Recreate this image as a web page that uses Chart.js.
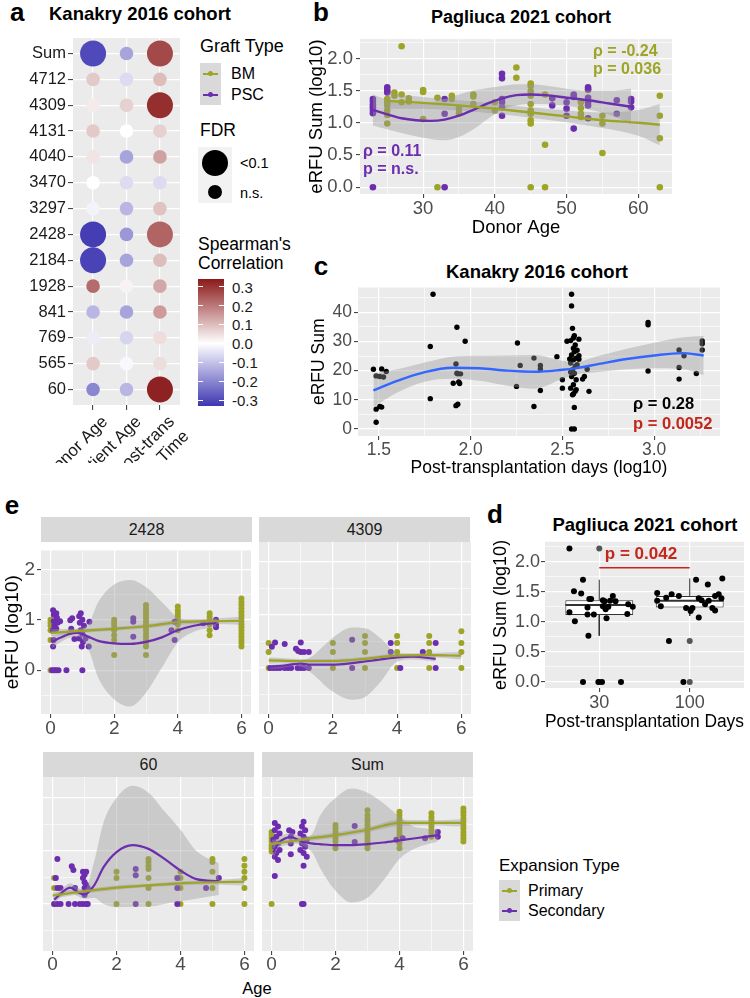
<!DOCTYPE html>
<html><head><meta charset="utf-8">
<script src="https://cdn.jsdelivr.net/npm/chart.js@4.4.1/dist/chart.umd.min.js"></script>
<style>
html,body{margin:0;padding:0;background:#fff;}
body{width:750px;height:998px;position:relative;overflow:hidden;font-family:"Liberation Sans",Arial,sans-serif;color:#000;}
canvas{position:absolute;}
.t{position:absolute;white-space:nowrap;line-height:1;}
.strip{position:absolute;background:#D9D9D9;color:#1A1A1A;font-size:16px;display:flex;align-items:center;justify-content:center;}
.box{position:absolute;}
</style></head><body>
<script>
// ── panel a: Spearman dot plot ──
const aRows = ['Sum','4712','4309','4131','4040','3470','3297','2428','2184','1928','841','769','565','60'];
const aCols = ['Donor Age', 'Patient Age', ['Post-trans', 'Time']];
const rhoDonor   = [-0.30, 0.08, 0.03, 0.08, 0.04, 0.00, -0.02, -0.32, -0.31, 0.22, -0.12, -0.03, 0.08, -0.20];
const rhoPatient = [-0.15, -0.06, 0.07, 0.00, -0.15, -0.06, -0.12, -0.17, -0.15, 0.02, -0.15, -0.07, -0.01, -0.12];
const rhoPost    = [0.27, 0.10, 0.31, 0.07, 0.14, -0.06, 0.09, 0.23, 0.10, 0.13, 0.15, 0.05, 0.05, 0.33];
const sigDonor   = [1,0,0,0,0,0,0,1,1,0,0,0,0,0];
const sigPatient = [0,0,0,0,0,0,0,0,0,0,0,0,0,0];
const sigPost    = [1,0,1,0,0,0,0,1,0,0,0,0,0,1];
const cbarTicks  = [0.3, 0.2, 0.1, 0.0, -0.1, -0.2, -0.3];

// ── panel b: Pagliuca, donor age ──
const bBM = [[25,1.37],[25,1.32],[25,1.27],[25,1.19],[25,1.12],[25,0.99],[26,1.47],[26,1.42],[27,2.19],[27,1.44],[27,1.32],[28,1.38],[28,1.33],[30,1.51],[30,1.48],[30,1.06],[32,1.39],[32,0],[34,1.42],[34,1.37],[35,1.22],[35,1.15],[37,1.44],[37,1.41],[37,1.29],[40,1.32],[40,1.19],[43,1.86],[43,1.70],[45,1.61],[45,1.57],[45,1.49],[45,1.42],[45,1.29],[45,1.19],[45,1.14],[45,1.04],[45,0.99],[45,0],[47,1.44],[47,0.66],[47,0],[52,1.32],[52,1.23],[52,1.14],[52,1.09],[53,1.51],[55,1.11],[55,0.99],[55,0.53],[63,1.42],[63,1.11],[63,0.76],[63,0]];
const bPSC = [[23,1.37],[23,1.33],[23,1.28],[23,1.24],[23,1.20],[23,1.15],[23,0],[25,1.55],[25,1.50],[25,1.47],[33,1.37],[33,1.14],[33,0],[41,1.76],[41,1.69],[41,1.37],[41,1.32],[41,1.24],[41,1.11],[48,1.38],[48,1.27],[50,1.32],[50,1.22],[50,1.11],[51,1.44],[51,1.40],[51,0.91],[53,1.55],[53,1.52],[53,1.39],[53,1.32],[53,1.27],[53,1.07],[57,1.35],[57,1.14],[59,1.37],[59,1.33],[59,1.24]];
// [x, fit, lower, upper]
const bBMFit = [[25,1.34,1.22,1.46],[30,1.31,1.22,1.40],[35,1.27,1.19,1.35],[40,1.22,1.14,1.30],[45,1.16,1.08,1.24],[50,1.10,1.01,1.19],[55,1.04,0.92,1.16],[60,1.00,0.80,1.20],[63,0.97,0.65,1.29]];
const bPSCFit = [[23,1.20,0.96,1.44],[25,1.13,0.90,1.36],[27,1.07,0.84,1.30],[29,1.04,0.79,1.29],[31,1.03,0.75,1.31],[33,1.05,0.73,1.37],[35,1.11,0.78,1.44],[37,1.20,0.90,1.50],[39,1.30,1.06,1.54],[41,1.38,1.20,1.57],[43,1.43,1.27,1.60],[45,1.44,1.29,1.60],[47,1.43,1.29,1.58],[50,1.39,1.26,1.53],[53,1.35,1.21,1.50],[56,1.30,1.12,1.50],[59,1.25,0.98,1.53]];

// ── panel c: Kanakry, post-transplant days ──
const cPts = [[1.47,20.5],[1.485,18.2],[1.485,6.8],[1.485,2.3],[1.505,7.7],[1.505,18.0],[1.515,20.6],[1.515,7.5],[1.525,17.8],[1.54,19.7],
  [1.78,28.3],[1.78,10.4],[1.795,46.2],[1.905,15.7],[1.92,22.3],[1.92,8.0],[1.925,34.9],[1.925,19.1],[1.93,8.5],[1.93,18.9],[1.935,16.1],[1.94,15.6],[1.945,18.9],[1.97,30.1],
  [2.25,14.6],[2.255,29.5],[2.27,21.8],[2.345,24.3],[2.345,7.7],[2.38,21.8],[2.38,20.6],[2.38,13.2],[2.47,24.8],[2.5,16.9],[2.5,14.0],[2.525,30.1],
  [2.55,46.2],[2.55,42.2],[2.555,34.5],[2.565,32.0],[2.56,31.2],[2.545,30.3],[2.57,28.8],[2.56,27.7],[2.565,26.5],[2.55,25.4],[2.575,24.3],[2.56,23.7],[2.545,22.6],[2.57,21.4],[2.555,20.3],[2.565,19.1],[2.55,18.0],[2.575,16.9],[2.56,15.2],[2.545,14.0],[2.57,12.9],[2.555,11.7],[2.565,7.4],[2.55,0],[2.565,0],[2.56,12.0],[2.575,13.5],[2.545,19.5],[2.58,22.0],[2.54,24.0],[2.58,27.0],
  [2.59,30.8],[2.59,25.1],[2.59,23.9],[2.61,17.1],[2.62,18.0],[2.635,20.5],[2.645,12.9],
  [2.967,36.5],[2.967,35.7],[2.967,19.9],[3.136,27.1],[3.136,21.1],[3.136,17.1],[3.163,25.1],[3.23,19.0],[3.262,30.2],[3.262,29.2],[3.262,27.1]];
const cFit = [[1.47,13.2,7.5,19.0],[1.6,16.5,12.5,20.5],[1.75,19.5,16.2,22.8],[1.9,21.0,17.2,24.8],[2.05,20.8,16.5,25.1],[2.2,20.0,14.8,25.2],[2.35,19.6,13.8,25.4],[2.5,20.3,17.2,23.4],[2.57,20.8,18.6,23.0],[2.7,22.3,19.5,25.1],[2.85,24.0,20.5,27.5],[3.0,25.2,20.8,29.6],[3.15,26.0,20.6,31.4],[3.27,25.2,18.5,31.9]];

// ── panel d: Pagliuca, day 30 vs 100 ──
const dCats = ['30', '100'];
const dQ1 = [1.115, 1.24], dMed = [1.28, 1.35], dQ3 = [1.357, 1.43], dWhiskLo = [0.77, 1.10], dWhiskHi = [1.70, 1.72];
const dPts30 = [[0.67,2.22],[0.82,1.70],[0.72,1.51],[0.80,1.47],[0.89,1.38],[0.91,1.38],[1.04,1.36],[1.06,1.34],[1.15,1.43],[1.12,1.35],[1.18,1.34],[0.67,1.16],[0.87,1.24],[1.10,1.25],[1.07,1.21],[1.32,1.29],[1.37,1.25],[1.31,1.13],[0.87,1.12],[0.94,1.12],[0.73,1.01],[1.08,1.06],[0.88,0.77],[0.82,0],[0.99,0],[1.03,0],[1.24,0],[1.04,1.26]];
const dPts100 = [[2.07,1.70],[2.36,1.72],[2.20,1.62],[1.64,1.48],[1.74,1.40],[1.80,1.46],[1.88,1.43],[2.10,1.39],[2.13,1.36],[2.32,1.46],[2.35,1.39],[2.28,1.43],[1.64,1.35],[1.68,1.26],[1.96,1.23],[2.03,1.23],[2.17,1.29],[2.21,1.35],[2.25,1.23],[2.28,1.19],[2.01,1.18],[2.10,1.07],[1.77,0.68],[1.93,0]];
const dOutliers = [[1,2.22],[1,0],[2,0.68],[2,0]];
const dBracketY = 1.9;

// ── panel e: facets by age ──
const e2428P = [[0,1.0],[0,0.94],[0,0.88],[0,0.79],[0,0.6],[0,0],[2,1.0],[2,0.94],[2,0.88],[2,0.79],[2,0.69],[2,0.6],[2,0.3],
  [3,1.29],[3,1.23],[3,1.16],[3,1.10],[3,1.04],[3,0.97],[3,0.91],[3,0.85],[3,0.79],[3,0.72],[3,0.66],[3,0.6],[3,0.54],[3,0.47],[3,0.3],
  [4,1.26],[4,1.19],[4,1.13],[4,1.07],[4,1.0],[4,0.91],[4,0.79],[5,1.13],[5,1.07],[5,1.0],[5,0.91],[5,0.79],[5,0.69],
  [6,1.42],[6,1.35],[6,1.29],[6,1.23],[6,1.16],[6,1.10],[6,1.04],[6,0.97],[6,0.91],[6,0.85],[6,0.79],[6,0.72],[6,0.66],[6,0.6],[6,0.54],[6,0.47]];
const e2428S = [[0.08,1.19],[0.1,1.1],[0.1,0.97],[0.12,0.88],[0.08,0.79],[0.1,0.6],[0.08,0.47],[0.18,1.13],[0.2,1.04],[0.22,0.94],[0.3,0.97],[0.18,0.82],[0.05,0],[0.12,0],[0.18,0],[0.25,0],[0.5,0],[0.62,0.99],[0.68,1.03],[0.65,0.82],[0.75,0.62],[0.9,1.07],[0.95,1.13],[1.0,1.0],[0.92,0.94],[1.05,0.88],[0.95,0.79],[1.0,0.72],[0.9,0.63],[1.02,0.56],[0.98,0.47],[1.0,0],[1.22,0.96],[1.2,0.47],[1.1,0.63],[2.6,1.03],[2.6,0.96],[2.6,0.66],[3.9,0.96],[3.9,0.6],[3.8,0.79],[4.8,0.93],[5.2,1.0],[5.2,0.91],[5.2,0.85]];
const e2428PFit = [[0,0.74,0.67,0.81],[1,0.78,0.74,0.82],[2,0.82,0.78,0.86],[3,0.87,0.83,0.91],[4,0.95,0.90,1.0],[5,0.97,0.92,1.02],[6,0.98,0.90,1.06]];
const e2428SFit = [[0.05,0.56,0.44,0.68],[0.3,0.64,0.55,0.73],[0.6,0.72,0.64,0.80],[0.85,0.74,0.66,0.82],[1.2,0.66,0.40,0.92],[1.5,0.58,-0.15,1.35],[2.0,0.53,-0.58,1.70],[2.5,0.52,-0.72,1.79],[3.0,0.56,-0.45,1.65],[3.5,0.65,0.05,1.35],[4.0,0.79,0.55,1.05],[4.5,0.88,0.76,1.0],[5.2,0.94,0.86,1.02]];

const e4309P = [[0,0.47],[0,0.3],[0,0],[2,0.47],[2,0.3],[2,0],[3,0.6],[3,0.47],[3,0.3],[3,0],[4,0.6],[4,0.47],[4,0.3],[4,0],[5,0.6],[5,0.47],[5,0.3],[5,0],[6,0.69],[6,0.47],[6,0.3],[6,0]];
const e4309S = [[0.05,0],[0.1,0.40],[0.15,0],[0.2,0.48],[0.25,0],[0.35,0],[0.5,0.45],[0.5,0],[0.6,0],[0.7,0],[0.85,0.36],[0.9,0],[0.92,0.32],[1.0,0.48],[1.0,0.30],[1.0,0],[1.1,0.30],[1.1,0],[1.25,0.30],[1.25,0],[2.6,0.53],[2.6,0],[3.8,0.47],[3.8,0.30],[4.1,0],[4.8,0.30],[5.2,0.47],[5.2,0]];
const e4309PFit = [[0,0.14,0.08,0.20],[1,0.13,0.09,0.17],[2,0.13,0.09,0.17],[3,0.17,0.13,0.21],[4,0.23,0.19,0.27],[5,0.24,0.20,0.28],[6,0.23,0.16,0.30]];
const e4309SFit = [[0.05,0.02,-0.02,0.06],[0.4,0.04,0.0,0.08],[0.8,0.07,0.03,0.11],[1.0,0.08,0.02,0.14],[1.3,0.06,-0.08,0.20],[2.0,0.06,-0.45,0.57],[2.6,0.09,-0.60,0.76],[3.0,0.12,-0.55,0.75],[3.5,0.16,-0.25,0.55],[4.0,0.20,0.12,0.28],[4.5,0.21,0.16,0.26],[5.2,0.17,0.12,0.22]];

const e60P = [[0.05,0.49],[0.05,0.3],[0.05,0],[2,0.61],[2,0.49],[2,0],[3,0.85],[3,0.79],[3,0.72],[3,0.66],[3,0.49],[3,0.3],[3,0],[4,0.61],[4,0.49],[4,0.3],[4,0],[5,0.85],[5,0.79],[5,0.61],[5,0.3],[5,0],[6,0.85],[6,0.72],[6,0.61],[6,0.49],[6,0.3],[6,0]];
const e60S = [[0.15,0.85],[0.1,0.49],[0.15,0.30],[0.25,0.30],[0.05,0],[0.15,0],[0.25,0],[0.5,0],[0.6,0.71],[0.65,0.64],[0.7,0.30],[0.7,0],[0.85,0],[0.95,0.61],[1.05,0.61],[1.0,0.55],[0.95,0.49],[1.0,0.41],[1.05,0.36],[1.0,0.30],[1.1,0.30],[1.0,0.17],[0.95,0],[1.05,0],[1.1,0],[2.6,0.66],[2.6,0.54],[2.6,0],[3.9,0.49],[3.9,0.30],[3.9,0],[4.8,0.30],[5.2,0.49]];
const e60PFit = [[0,0.16,0.10,0.22],[1,0.24,0.20,0.28],[2,0.31,0.27,0.35],[3,0.35,0.32,0.38],[4,0.39,0.35,0.43],[5,0.41,0.37,0.45],[6,0.42,0.35,0.49]];
const e60SFit = [[0.05,0.08,0.0,0.16],[0.3,0.22,0.15,0.29],[0.55,0.31,0.23,0.39],[0.8,0.22,0.14,0.30],[1.0,0.18,0.10,0.26],[1.3,0.35,0.12,0.8],[1.6,0.70,0.0,1.55],[2.0,0.98,-0.06,2.0],[2.5,1.11,-0.05,2.23],[3.0,1.04,-0.05,2.1],[3.5,0.85,0.0,1.75],[4.0,0.63,0.05,1.4],[4.5,0.47,0.1,1.0],[5.2,0.43,0.17,0.77]];

const eSumP = [[0,1.36],[0,1.30],[0,1.24],[0,1.18],[0,1.11],[0,1.05],[0,0.99],[0,0],
  [2,1.49],[2,1.43],[2,1.36],[2,1.30],[2,1.24],[2,1.18],[2,1.11],[2,1.05],
  [3,1.77],[3,1.68],[3,1.61],[3,1.55],[3,1.49],[3,1.43],[3,1.36],[3,1.30],[3,1.24],[3,1.18],[3,1.11],[3,1.05],
  [4,1.74],[4,1.68],[4,1.61],[4,1.55],[4,1.49],[4,1.43],[4,1.36],[4,1.30],[4,1.14],[4,1.05],
  [5,1.71],[5,1.64],[5,1.58],[5,1.52],[5,1.46],[5,1.39],[5,1.33],[5,1.27],
  [6,1.80],[6,1.74],[6,1.68],[6,1.61],[6,1.55],[6,1.49],[6,1.43],[6,1.36],[6,1.30],[6,1.24],[6,1.18]];
const eSumS = [[0.1,1.53],[0.2,1.46],[0.1,1.39],[0.25,1.33],[0.15,1.27],[0.05,1.21],[0.2,1.14],[0.1,1.08],[0.25,1.02],[0.15,0.96],[0.1,0.89],[0.2,0.83],[0.1,0.53],
  [0.55,1.39],[0.65,1.36],[0.6,1.27],[0.6,1.14],[0.6,0.94],
  [1.0,1.55],[0.95,1.46],[1.05,1.39],[0.9,1.33],[1.0,1.27],[1.1,1.21],[0.95,1.14],[1.05,1.08],[0.9,1.02],[1.0,0.96],[1.1,0.89],[1.0,0.72],[1.0,0],[0.95,0],
  [2.6,1.47],[2.6,1.17],[3.9,1.21],[4.1,1.24],[4.8,1.24],[5.2,1.36],[5.2,1.27]];
const eSumPFit = [[0,1.13,1.05,1.21],[1,1.22,1.17,1.27],[2,1.30,1.25,1.35],[3,1.40,1.35,1.45],[4,1.53,1.47,1.59],[5,1.53,1.48,1.58],[6,1.53,1.46,1.60]];
const eSumSFit = [[0.05,0.97,0.85,1.09],[0.2,1.14,1.05,1.23],[0.4,1.23,1.15,1.31],[0.6,1.26,1.18,1.34],[0.8,1.22,1.14,1.30],[1.0,1.17,1.09,1.25],[1.3,1.14,0.95,1.35],[1.5,1.13,0.7,1.65],[2.0,1.11,0.25,2.0],[2.5,1.11,0.03,2.18],[3.0,1.13,0.12,2.1],[3.5,1.16,0.45,1.9],[4.0,1.20,0.85,1.65],[4.5,1.24,1.05,1.45],[5.2,1.30,1.18,1.42]];

// ══════════════════════════════════════════
const OLIVE = '#9DA426', PURPLE = '#6C2DAF', RED = '#C3261B', BLUE = '#3366FF';
const RIBBON = 'rgba(153,153,153,0.4)';
const LOW = [62, 55, 178], HIGH = [139, 26, 26], C_MIN = -0.33, C_MAX = 0.34;
Chart.defaults.font.family = '"Liberation Sans", Arial, sans-serif';

function colorFor(v) {
  const t = v < 0 ? Math.min(1, v / C_MIN) : Math.min(1, v / C_MAX);
  const end = v < 0 ? LOW : HIGH;
  const c = end.map(e => Math.round(255 + (e - 255) * t));
  return `rgb(${c[0]},${c[1]},${c[2]})`;
}

const panelBg = {
  id: 'panelBg',
  beforeDraw(chart) {
    const {ctx, chartArea: a} = chart;
    ctx.save(); ctx.fillStyle = '#EBEBEB';
    ctx.fillRect(a.left, a.top, a.width, a.height);
    ctx.restore();
  }
};

function txt(s, x, y, o = {}) {
  const d = document.createElement('div');
  d.className = 't'; d.textContent = s;
  d.style.left = x + 'px'; d.style.top = y + 'px';
  d.style.fontSize = (o.size || 16) + 'px';
  if (o.bold) d.style.fontWeight = 'bold';
  if (o.color) d.style.color = o.color;
  d.style.transform = o.center ? 'translate(-50%,-50%)' : 'translateY(-50%)';
  document.body.appendChild(d);
  return d;
}
function box(x, y, w, h, css) {
  const d = document.createElement('div');
  d.className = 'box';
  Object.assign(d.style, {left: x + 'px', top: y + 'px', width: w + 'px', height: h + 'px'}, css);
  document.body.appendChild(d);
  return d;
}
function mkCanvas(x, y, w, h) {
  const c = document.createElement('canvas');
  c.width = w; c.height = h;
  Object.assign(c.style, {left: x + 'px', top: y + 'px', width: w + 'px', height: h + 'px'});
  document.body.appendChild(c);
  return c;
}

// ggplot-like axis: explicit major/minor ticks, fixed box size
function axis(o) {
  const minors = o.minor || [];
  const all = o.major.concat(minors).sort((a, b) => a - b);
  const isMaj = v => o.major.some(m => Math.abs(m - v) < 1e-9);
  return {
    type: 'linear', min: o.min, max: o.max, offset: false,
    afterBuildTicks: s => { s.ticks = all.map(v => ({value: v})); },
    afterFit: s => { if (o.horiz) s.height = o.box; else s.width = o.box; },
    ticks: {
      display: o.labels !== false, autoSkip: false,
      minRotation: o.rot || 0, maxRotation: o.rot || 0,
      padding: o.pad || 0, labelOffset: o.labelOffset || 0,
      font: {size: o.size}, color: o.color || '#4D4D4D',
      callback: v => isMaj(v) ? o.fmt(v) : ''
    },
    grid: {
      color: '#FFFFFF', offset: false,
      lineWidth: c => (c.tick && isMaj(c.tick.value)) ? 1.2 : 0.6,
      drawTicks: (o.tickLen || 0) > 0, tickLength: o.tickLen || 0, tickWidth: 1,
      tickColor: c => (c.tick && isMaj(c.tick.value)) ? '#333333' : 'rgba(0,0,0,0)'
    },
    border: {display: false},
    title: o.title ? {display: true, text: o.title, color: '#000', font: {size: o.titleSize}, padding: o.titlePad} : {display: false}
  };
}

function mkChart(canvas, type, datasets, scales, pad) {
  return new Chart(canvas, {
    type, data: {datasets}, plugins: [panelBg],
    options: {
      responsive: false, animation: false, devicePixelRatio: 1, events: [],
      layout: {padding: pad},
      plugins: {legend: {display: false}, tooltip: {enabled: false}, title: {display: false}},
      scales
    }
  });
}

const pts = (pairs, color, r, order = 3) => ({type: 'line', data: pairs.map(p => ({x: p[0], y: p[1]})), showLine: false,
  pointRadius: r, pointBackgroundColor: color, pointBorderWidth: 0, order});
const ribbon = rows => [
  {type: 'line', data: rows.map(r => ({x: r[0], y: r[3]})), borderWidth: 0, pointRadius: 0, fill: '+1',
   backgroundColor: RIBBON, cubicInterpolationMode: 'monotone', order: 2},
  {type: 'line', data: rows.map(r => ({x: r[0], y: r[2]})), borderWidth: 0, pointRadius: 0, fill: false,
   cubicInterpolationMode: 'monotone', order: 2}
];
const fitLine = (rows, color, w) => ({type: 'line', data: rows.map(r => ({x: r[0], y: r[1]})), borderColor: color,
  borderWidth: w, pointRadius: 0, fill: false, cubicInterpolationMode: 'monotone', order: 1});

// ── a ──
txt('a', 10, 12, {size: 26, bold: true});
txt('Kanakry 2016 cohort', 140, 14, {size: 18.5, bold: true, center: true});
const aData = [];
[[rhoDonor, sigDonor], [rhoPatient, sigPatient], [rhoPost, sigPost]].forEach(([rho, sig], c) => {
  aRows.forEach((r, i) => aData.push({x: c + 1, y: aRows.length - i, r: sig[i] ? 13 : 6.8, v: rho[i]}));
});
mkChart(mkCanvas(0, 25, 195, 438), 'bubble',
  [{data: aData, backgroundColor: c => colorFor(c.raw.v), borderWidth: 0}],
  {
    x: axis({min: 0.4, max: 3.6, major: [1, 2, 3], fmt: v => aCols[v - 1], horiz: true, box: 58, tickLen: 5, pad: 2,
             rot: 45, size: 17, color: '#1A1A1A', labelOffset: 12}),
    y: axis({min: 0.4, max: 14.6, major: aRows.map((r, i) => i + 1), fmt: v => aRows[aRows.length - v], box: 73,
             tickLen: 5, pad: 2, size: 16.5, color: '#1A1A1A'})
  },
  {top: 4, right: 15, left: 0, bottom: 0});

// legends for a / b
txt('Graft Type', 200, 46, {size: 18});
[[OLIVE, 'BM', 63], [PURPLE, 'PSC', 84]].forEach(([col, lab, y]) => {
  box(200, y, 21, 21, {background: '#D9D9D9'});
  box(203, y + 9.5, 15, 2, {background: col});
  box(208, y + 8, 5, 5, {background: col, borderRadius: '50%'});
  txt(lab, 231, y + 11, {size: 16});
});
txt('FDR', 200, 131, {size: 17.5});
box(198, 147, 34, 56, {background: '#F2F2F2'});
box(202, 150, 26, 26, {background: '#000', borderRadius: '50%'});
box(208, 185, 14, 14, {background: '#000', borderRadius: '50%'});
txt('<0.1', 240, 163, {size: 14.5});
txt('n.s.', 240, 193, {size: 14.5});
txt("Spearman's", 198, 245, {size: 17.5});
txt('Correlation', 198, 264, {size: 17.5});
{
  const top = 279, bot = 406, pxPer = (bot - top) / (C_MAX - C_MIN);
  const stops = [C_MAX, 0.2, 0.1, 0, -0.1, -0.2, C_MIN].map(v => `${colorFor(v)} ${((C_MAX - v) * pxPer).toFixed(1)}px`);
  box(198, top, 26, bot - top, {background: `linear-gradient(to bottom, ${stops.join(',')})`});
  cbarTicks.forEach(v => {
    const y = top + (C_MAX - v) * pxPer;
    box(198, y - 0.5, 5, 1, {background: '#fff'});
    box(219, y - 0.5, 5, 1, {background: '#fff'});
    txt(v.toFixed(1), 232, y, {size: 15, color: '#1A1A1A'});
  });
}

// ── b ──
txt('b', 321, 12, {size: 26, bold: true, center: true});
txt('Pagliuca 2021 cohort', 521, 17, {size: 18, bold: true, center: true});
mkChart(mkCanvas(300, 25, 380, 215), 'line',
  [].concat(ribbon(bBMFit), ribbon(bPSCFit), [fitLine(bBMFit, OLIVE, 2.4), fitLine(bPSCFit, PURPLE, 2.4)],
            [pts(bBM, OLIVE, 3.3, 4), pts(bPSC, PURPLE, 3.3, 3)]),
  {
    x: axis({min: 21.2, max: 64.7, major: [30, 40, 50, 60], minor: [25, 35, 45, 55], fmt: v => String(v), horiz: true,
             box: 46, tickLen: 4, pad: 0, size: 18.5, title: 'Donor Age', titleSize: 18.5, titlePad: {top: 0, bottom: 1}}),
    y: axis({min: -0.106, max: 2.3, major: [0, 0.5, 1, 1.5, 2], minor: [0.25, 0.75, 1.25, 1.75, 2.25], fmt: v => v.toFixed(1),
             box: 60, tickLen: 4, pad: 3, size: 18.5, title: 'eRFU Sum (log10)', titleSize: 18.5, titlePad: {top: 6, bottom: 0}})
  },
  {top: 10, right: 8, left: 0, bottom: 0});
txt('ρ = -0.24', 593, 51, {size: 16, bold: true, color: OLIVE});
txt('p = 0.036', 593, 69, {size: 16, bold: true, color: OLIVE});
txt('ρ = 0.11', 363, 151, {size: 16, bold: true, color: PURPLE});
txt('p = n.s.', 363, 169, {size: 16, bold: true, color: PURPLE});

// ── c ──
txt('c', 321, 266, {size: 26, bold: true, center: true});
txt('Kanakry 2016 cohort', 537, 272, {size: 18.5, bold: true, center: true});
mkChart(mkCanvas(300, 275, 430, 210), 'line',
  [].concat(ribbon(cFit), [fitLine(cFit, BLUE, 2.4)], [pts(cPts, '#000', 2.7)]),
  {
    x: axis({min: 1.386, max: 3.359, major: [1.5, 2, 2.5, 3], minor: [1.75, 2.25, 2.75, 3.25], fmt: v => v.toFixed(1), horiz: true,
             box: 49, tickLen: 4, pad: 0, size: 17.5, title: 'Post-transplantation days (log10)', titleSize: 17.5, titlePad: {top: 0, bottom: 6}}),
    y: axis({min: -2.4, max: 48.5, major: [0, 10, 20, 30, 40], minor: [5, 15, 25, 35, 45], fmt: v => String(v),
             box: 58, tickLen: 4, pad: 2, size: 17.5, title: 'eRFU Sum', titleSize: 17.5, titlePad: {top: 8.5, bottom: 0}})
  },
  {top: 12, right: 10, left: 0, bottom: 0});
txt('ρ = 0.28', 633, 403, {size: 16.5, bold: true});
txt('p = 0.0052', 633, 423, {size: 16.5, bold: true, color: RED});

// ── d ──
txt('d', 495, 514, {size: 26, bold: true, center: true});
txt('Pagliuca 2021 cohort', 645, 525, {size: 18.5, bold: true, center: true});
{
  const cats = dCats.map((c, i) => i + 1);
  const hw = 0.375;
  const ds = [
    {type: 'bar', data: cats.map((c, i) => ({x: c, y: [dQ1[i], dQ3[i]]})), backgroundColor: '#FFFFFF', borderColor: '#333333',
     borderWidth: 1, borderSkipped: false, categoryPercentage: 1, barPercentage: 0.75, order: 4}
  ];
  cats.forEach((c, i) => {
    ds.push({type: 'line', data: [{x: c, y: dQ3[i]}, {x: c, y: dWhiskHi[i]}], borderColor: '#333333', borderWidth: 1, pointRadius: 0, order: 5});
    ds.push({type: 'line', data: [{x: c, y: dQ1[i]}, {x: c, y: dWhiskLo[i]}], borderColor: '#333333', borderWidth: 1, pointRadius: 0, order: 5});
    ds.push({type: 'line', data: [{x: c - hw, y: dMed[i]}, {x: c + hw, y: dMed[i]}], borderColor: '#333333', borderWidth: 2, pointRadius: 0, order: 3});
  });
  ds.push(pts(dOutliers, '#555555', 3, 2));
  ds.push(pts(dPts30, '#000', 3, 1));
  ds.push(pts(dPts100, '#000', 3, 1));
  ds.push({type: 'line', data: [{x: 1, y: dBracketY}, {x: 2, y: dBracketY}], borderColor: RED, borderWidth: 1.5, pointRadius: 0, order: 0});
  mkChart(mkCanvas(480, 530, 270, 205), 'line', ds, {
    x: axis({min: 0.4, max: 2.6, major: cats, fmt: v => dCats[v - 1], horiz: true, box: 47, tickLen: 4, pad: 0, size: 18,
             title: 'Post-transplantation Days', titleSize: 18, titlePad: {top: 0, bottom: 2}}),
    y: axis({min: -0.1, max: 2.33, major: [0, 0.5, 1, 1.5, 2], minor: [0.25, 0.75, 1.25, 1.75, 2.25], fmt: v => v.toFixed(1),
             box: 65, tickLen: 4, pad: 1, size: 18, title: 'eRFU Sum (log10)', titleSize: 18, titlePad: {top: 10, bottom: 0}})
  }, {top: 10, right: 6, left: 0, bottom: 0});
}
txt('p = 0.042', 641, 553, {size: 17, bold: true, color: RED, center: true});

// ── e ──
txt('e', 12, 505, {size: 26, bold: true, center: true});
function facet(x, y, w, h, o) {
  const ds = [].concat(ribbon(o.pFit), ribbon(o.sFit),
    [fitLine(o.pFit, OLIVE, 2.2), fitLine(o.sFit, PURPLE, 2.2)],
    [pts(o.p, OLIVE, 3, 4), pts(o.s, PURPLE, 3, 3)]);
  mkChart(mkCanvas(x, y, w, h), 'line', ds, {
    x: axis({min: -0.3, max: 6.3, major: [0, 2, 4, 6], minor: [1, 3, 5], fmt: v => String(v), horiz: true,
             box: o.xBox, tickLen: 4, pad: o.xPad, size: 19}),
    y: axis(Object.assign({min: o.yMin, max: o.yMax, major: [0, 1, 2], minor: [-0.5, 0.5, 1.5], fmt: v => String(v)}, o.y))
  }, o.pad);
}
facet(0, 537, 255, 205, {p: e2428P, s: e2428S, pFit: e2428PFit, sFit: e2428SFit, yMin: -0.87, yMax: 2.375, xBox: 28, xPad: -1,
  y: {box: 41, tickLen: 4, pad: 2, size: 19, title: 'eRFU (log10)', titleSize: 19, titlePad: {top: 1.6, bottom: 0}},
  pad: {top: 5, right: 3, left: 0, bottom: 0}});
facet(255, 537, 220, 205, {p: e4309P, s: e4309S, pFit: e4309PFit, sFit: e4309SFit, yMin: -0.87, yMax: 2.375, xBox: 28, xPad: -1,
  y: {box: 0, labels: false},
  pad: {top: 5, right: 4, left: 4, bottom: 0}});
facet(0, 772, 258, 205, {p: e60P, s: e60S, pFit: e60PFit, sFit: e60SFit, yMin: -0.887, yMax: 2.396, xBox: 26, xPad: -2,
  y: {box: 0, labels: false},
  pad: {top: 5, right: 4, left: 43, bottom: 0}});
facet(258, 772, 220, 205, {p: eSumP, s: eSumS, pFit: eSumPFit, sFit: eSumSFit, yMin: -0.887, yMax: 2.396, xBox: 26, xPad: -2,
  y: {box: 0, labels: false},
  pad: {top: 5, right: 5, left: 4, bottom: 0}});
[['2428', 41, 517], ['4309', 259, 517], ['60', 43, 752], ['Sum', 262, 752]].forEach(([lab, x, y]) => {
  const s = box(x, y, 211, 25, {}); s.className = 'strip'; s.textContent = lab;
});
txt('Age', 257, 988, {size: 16.5, center: true});
txt('Expansion Type', 499, 865, {size: 17});
[[OLIVE, 'Primary', 880], [PURPLE, 'Secondary', 900]].forEach(([col, lab, y]) => {
  box(499, y, 21, 20.5, {background: '#D9D9D9'});
  box(502, y + 9.5, 15, 2, {background: col});
  box(507, y + 8, 5, 5, {background: col, borderRadius: '50%'});
  txt(lab, 528, y + 11, {size: 16});
});
</script>
</body></html>
